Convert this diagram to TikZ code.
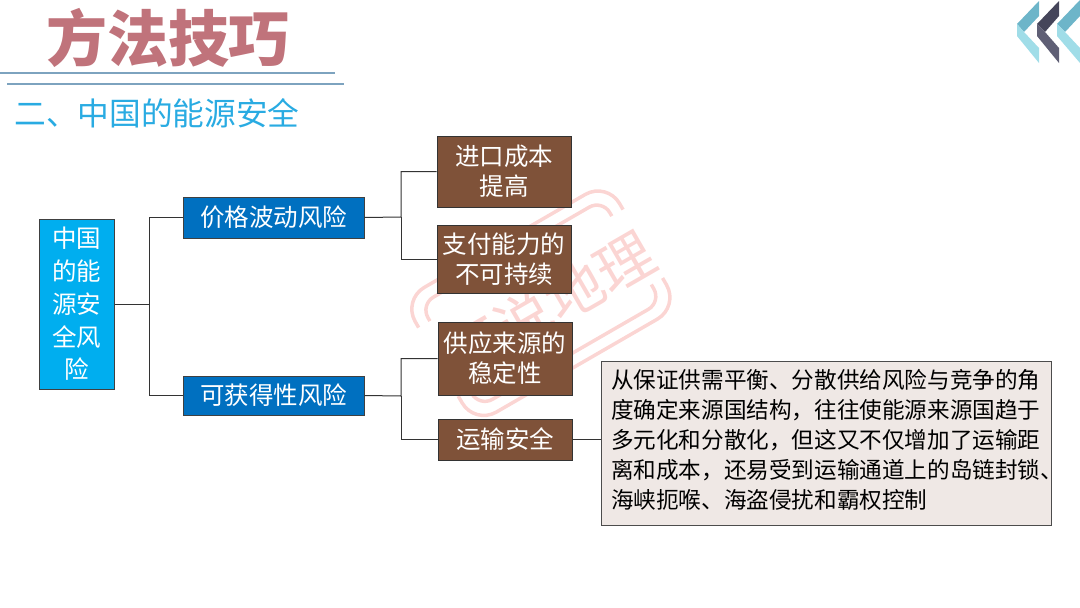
\documentclass[tikz,border=0pt]{standalone}
\usepackage{fontspec}
\setmainfont{Noto Sans CJK SC}
\definecolor{skybox}{HTML}{00AEEF}
\definecolor{bluebox}{HTML}{0070C0}
\definecolor{brownbox}{HTML}{7F5239}
\definecolor{notefill}{HTML}{EFE8E5}
\definecolor{titlered}{HTML}{C0737B}
\definecolor{rulegray}{HTML}{7DA3BF}
\definecolor{subblue}{HTML}{29ABE2}
\definecolor{stamp}{HTML}{FBD5D3}
\definecolor{chevA}{HTML}{6DB5C9}
\definecolor{chevB}{HTML}{A0DDE8}
\definecolor{chevC}{HTML}{45455A}
\definecolor{chevD}{HTML}{5F5F75}
\tikzset{
	rootbox/.style={draw=black!75, line width=1pt, fill=skybox, text=white, font=\fontsize{24.5}{32.7}\selectfont, align=center, inner sep=0pt},
	riskbox/.style={draw=black!75, line width=1pt, fill=bluebox, text=white, font=\fontsize{24.5}{30}\selectfont, inner sep=0pt},
	leafbox/.style={draw=black!80, line width=1pt, fill=brownbox, text=white, font=\fontsize{24.5}{30}\selectfont, align=center, inner sep=0pt},
	notebox/.style={draw=black!70, line width=1pt, fill=notefill, text=black, font=\fontsize{22.6}{30}\selectfont, align=left, text width=430pt, inner xsep=10pt, inner ysep=0pt},
	link/.style={draw=black!80, line width=1pt},
	stampline/.style={draw=stamp, line width=3.5pt},
}
\begin{document}
\begin{tikzpicture}[x=1pt, y=-1pt]
	\useasboundingbox (0,0) rectangle (1080,608);
	\begin{scope}[shift={(539,302)}, rotate=30]
		\draw[stampline, rounded corners=25pt] (-117,-38) -- (-117,-70) -- (119,-70) -- (119,-38);
		\draw[stampline, rounded corners=25pt] (-117,41) -- (-117,74) -- (119,74) -- (119,41);
		\draw[stampline, rounded corners=15pt] (-104,-38) -- (-104,-57) -- (106,-57) -- (106,-38);
		\draw[stampline, rounded corners=15pt] (-104,41) -- (-104,61) -- (106,61) -- (106,41);
		\node[text=stamp, rotate=30, font=\fontsize{58}{58}\selectfont] (stamptext) at (7,8) {河说地理};
	\end{scope}
	\node[text=titlered, font=\fontsize{61}{61}\selectfont\bfseries] (title) at (168,38) {方法技巧};
	\draw[rulegray, line width=2.5pt] (0,73) -- (335,73);
	\draw[rulegray, line width=2.5pt] (7,84) -- (344,84);
	\node[text=subblue, font=\fontsize{31.7}{32}\selectfont] (subtitle) at (157,113) {二、中国的能源安全};
	\fill[chevA] (1039,1) -- (1017,24) -- (1024,32) -- (1039,16) -- cycle;
	\fill[chevB] (1017,24) -- (1017,36) -- (1039,63) -- (1039,48) -- (1024,32) -- cycle;
	\fill[chevC] (1059,1) -- (1037,24) -- (1045,32) -- (1059,16) -- cycle;
	\fill[chevD] (1037,24) -- (1037,36) -- (1059,63) -- (1059,48) -- (1045,32) -- cycle;
	\fill[chevA] (1080,0) -- (1057,24) -- (1065,32) -- (1080,16) -- cycle;
	\fill[chevB] (1057,24) -- (1057,36) -- (1080,63) -- (1080,48) -- (1065,32) -- cycle;

	\node[rootbox, minimum width=75pt, minimum height=170pt] (root) at (76.5,304) {中国\\的能\\源安\\全风\\险};
	\node[riskbox, minimum width=181pt, minimum height=41pt] (price) at (273.5,217.5) {价格波动风险};
	\node[riskbox, minimum width=181pt, minimum height=39pt] (access) at (273.5,395.5) {可获得性风险};
	\node[leafbox, minimum width=134pt, minimum height=71pt] (cost) at (504,171.5) {进口成本\\提高};
	\node[leafbox, minimum width=134pt, minimum height=68pt] (pay) at (504,259) {支付能力的\\不可持续};
	\node[leafbox, minimum width=134pt, minimum height=73pt] (supply) at (505,358.5) {供应来源的\\稳定性};
	\node[leafbox, minimum width=134pt, minimum height=41pt] (transport) at (505,439.5) {运输安全};
	\node[notebox, minimum height=164pt] (note) at (826,443) {从保证供需平衡、分散供给风险与竞争的角\\度确定来源国结构，往往使能源来源国趋于\\多元化和分散化，但这又不仅增加了运输距\\离和成本，还易受到运输通道上的岛链封锁\rlap{、}\\海峡扼喉、海盗侵扰和霸权控制\par\vspace{6pt}};

	\coordinate (forkA) at (149,304);
	\coordinate (forkB) at (401,217);
	\coordinate (forkC) at (401,396);
	\draw[link] (root.east) -- (forkA) |- (price.west);
	\draw[link] (forkA) |- (access.west);
	\draw[link] (price.east) -- (forkB) |- (cost.west);
	\draw[link] (forkB) |- (pay.west);
	\draw[link] (access.east) -- (forkC) |- (supply.west);
	\draw[link] (forkC) |- (transport.west);
	\draw[link] (transport.east) -- (note.west |- transport.east);
\end{tikzpicture}
\end{document}
